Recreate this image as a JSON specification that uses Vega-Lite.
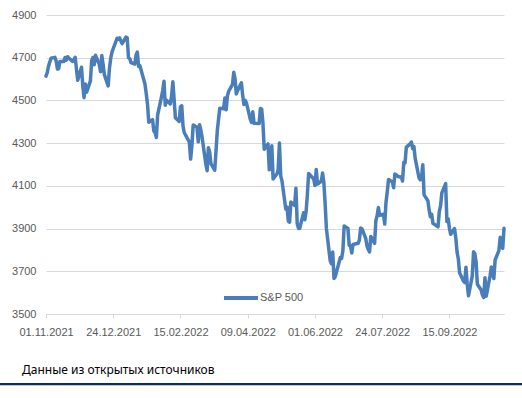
{
  "$schema": "https://vega.github.io/schema/vega-lite/v6.json",
  "autosize": "none",
  "width": 458,
  "height": 299,
  "padding": {"left": 46, "top": 15, "right": 18, "bottom": 84},
  "background": "white",
  "config": {
    "view": {"stroke": null},
    "font": "Liberation Sans"
  },
  "title": {
    "text": "Данные из открытых источников",
    "orient": "bottom",
    "anchor": "start",
    "frame": "group",
    "dx": -24,
    "offset": -20,
    "font": "Noto Sans",
    "fontSize": 12,
    "fontWeight": "normal",
    "color": "#000000"
  },
  "datasets": {
    "spx": [
      {"d":"2021-11-01","v":4613.67},{"d":"2021-11-02","v":4630.65},{"d":"2021-11-03","v":4660.57},{"d":"2021-11-04","v":4680.06},{"d":"2021-11-05","v":4697.53},
      {"d":"2021-11-08","v":4701.70},{"d":"2021-11-09","v":4685.25},{"d":"2021-11-10","v":4646.71},{"d":"2021-11-11","v":4649.27},{"d":"2021-11-12","v":4682.85},
      {"d":"2021-11-15","v":4682.80},{"d":"2021-11-16","v":4700.90},{"d":"2021-11-17","v":4688.67},{"d":"2021-11-18","v":4704.54},{"d":"2021-11-19","v":4697.96},
      {"d":"2021-11-22","v":4682.94},{"d":"2021-11-23","v":4690.70},{"d":"2021-11-24","v":4701.46},{"d":"2021-11-26","v":4594.62},
      {"d":"2021-11-29","v":4655.27},{"d":"2021-11-30","v":4567.00},{"d":"2021-12-01","v":4513.04},{"d":"2021-12-02","v":4577.10},{"d":"2021-12-03","v":4538.43},
      {"d":"2021-12-06","v":4591.67},{"d":"2021-12-07","v":4686.75},{"d":"2021-12-08","v":4701.21},{"d":"2021-12-09","v":4667.45},{"d":"2021-12-10","v":4712.02},
      {"d":"2021-12-13","v":4668.97},{"d":"2021-12-14","v":4634.09},{"d":"2021-12-15","v":4709.85},{"d":"2021-12-16","v":4668.67},{"d":"2021-12-17","v":4620.64},
      {"d":"2021-12-20","v":4568.02},{"d":"2021-12-21","v":4649.23},{"d":"2021-12-22","v":4696.56},{"d":"2021-12-23","v":4725.79},
      {"d":"2021-12-27","v":4791.19},{"d":"2021-12-28","v":4786.35},{"d":"2021-12-29","v":4793.06},{"d":"2021-12-30","v":4778.73},{"d":"2021-12-31","v":4766.18},
      {"d":"2022-01-03","v":4796.56},{"d":"2022-01-04","v":4793.54},{"d":"2022-01-05","v":4700.58},{"d":"2022-01-06","v":4696.05},{"d":"2022-01-07","v":4677.03},
      {"d":"2022-01-10","v":4670.29},{"d":"2022-01-11","v":4713.07},{"d":"2022-01-12","v":4726.35},{"d":"2022-01-13","v":4659.03},{"d":"2022-01-14","v":4662.85},
      {"d":"2022-01-18","v":4577.11},{"d":"2022-01-19","v":4532.76},{"d":"2022-01-20","v":4482.73},{"d":"2022-01-21","v":4397.94},
      {"d":"2022-01-24","v":4410.13},{"d":"2022-01-25","v":4356.45},{"d":"2022-01-26","v":4349.93},{"d":"2022-01-27","v":4326.51},{"d":"2022-01-28","v":4431.85},
      {"d":"2022-01-31","v":4515.55},{"d":"2022-02-01","v":4546.54},{"d":"2022-02-02","v":4589.38},{"d":"2022-02-03","v":4477.44},{"d":"2022-02-04","v":4500.53},
      {"d":"2022-02-07","v":4483.87},{"d":"2022-02-08","v":4521.54},{"d":"2022-02-09","v":4587.18},{"d":"2022-02-10","v":4504.08},{"d":"2022-02-11","v":4418.64},
      {"d":"2022-02-14","v":4401.67},{"d":"2022-02-15","v":4471.07},{"d":"2022-02-16","v":4475.01},{"d":"2022-02-17","v":4380.26},{"d":"2022-02-18","v":4348.87},
      {"d":"2022-02-22","v":4304.76},{"d":"2022-02-23","v":4225.50},{"d":"2022-02-24","v":4288.70},{"d":"2022-02-25","v":4384.65},
      {"d":"2022-02-28","v":4373.94},{"d":"2022-03-01","v":4306.26},{"d":"2022-03-02","v":4386.54},{"d":"2022-03-03","v":4363.49},{"d":"2022-03-04","v":4328.87},
      {"d":"2022-03-07","v":4201.09},{"d":"2022-03-08","v":4170.70},{"d":"2022-03-09","v":4277.88},{"d":"2022-03-10","v":4259.52},{"d":"2022-03-11","v":4204.31},
      {"d":"2022-03-14","v":4173.11},{"d":"2022-03-15","v":4262.45},{"d":"2022-03-16","v":4357.86},{"d":"2022-03-17","v":4411.67},{"d":"2022-03-18","v":4463.12},
      {"d":"2022-03-21","v":4461.18},{"d":"2022-03-22","v":4511.61},{"d":"2022-03-23","v":4456.24},{"d":"2022-03-24","v":4520.16},{"d":"2022-03-25","v":4543.06},
      {"d":"2022-03-28","v":4575.52},{"d":"2022-03-29","v":4631.60},{"d":"2022-03-30","v":4602.45},{"d":"2022-03-31","v":4530.41},{"d":"2022-04-01","v":4545.86},
      {"d":"2022-04-04","v":4582.64},{"d":"2022-04-05","v":4525.12},{"d":"2022-04-06","v":4481.15},{"d":"2022-04-07","v":4500.21},{"d":"2022-04-08","v":4488.28},
      {"d":"2022-04-11","v":4412.53},{"d":"2022-04-12","v":4397.45},{"d":"2022-04-13","v":4446.59},{"d":"2022-04-14","v":4392.59},
      {"d":"2022-04-18","v":4391.69},{"d":"2022-04-19","v":4462.21},{"d":"2022-04-20","v":4459.45},{"d":"2022-04-21","v":4393.66},{"d":"2022-04-22","v":4271.78},
      {"d":"2022-04-25","v":4296.12},{"d":"2022-04-26","v":4175.20},{"d":"2022-04-27","v":4183.96},{"d":"2022-04-28","v":4287.50},{"d":"2022-04-29","v":4131.93},
      {"d":"2022-05-02","v":4155.38},{"d":"2022-05-03","v":4175.48},{"d":"2022-05-04","v":4300.17},{"d":"2022-05-05","v":4146.87},{"d":"2022-05-06","v":4123.34},
      {"d":"2022-05-09","v":3991.24},{"d":"2022-05-10","v":4001.05},{"d":"2022-05-11","v":3935.18},{"d":"2022-05-12","v":3930.08},{"d":"2022-05-13","v":4023.89},
      {"d":"2022-05-16","v":4008.01},{"d":"2022-05-17","v":4088.85},{"d":"2022-05-18","v":3923.68},{"d":"2022-05-19","v":3900.79},{"d":"2022-05-20","v":3901.36},
      {"d":"2022-05-23","v":3973.75},{"d":"2022-05-24","v":3941.48},{"d":"2022-05-25","v":3978.73},{"d":"2022-05-26","v":4057.84},{"d":"2022-05-27","v":4158.24},
      {"d":"2022-05-31","v":4132.15},{"d":"2022-06-01","v":4101.23},{"d":"2022-06-02","v":4176.82},{"d":"2022-06-03","v":4108.54},
      {"d":"2022-06-06","v":4121.43},{"d":"2022-06-07","v":4160.68},{"d":"2022-06-08","v":4115.77},{"d":"2022-06-09","v":4017.82},{"d":"2022-06-10","v":3900.86},
      {"d":"2022-06-13","v":3749.63},{"d":"2022-06-14","v":3735.48},{"d":"2022-06-15","v":3789.99},{"d":"2022-06-16","v":3666.77},{"d":"2022-06-17","v":3674.84},
      {"d":"2022-06-21","v":3764.79},{"d":"2022-06-22","v":3759.89},{"d":"2022-06-23","v":3795.73},{"d":"2022-06-24","v":3911.74},
      {"d":"2022-06-27","v":3900.11},{"d":"2022-06-28","v":3821.55},{"d":"2022-06-29","v":3818.83},{"d":"2022-06-30","v":3785.38},{"d":"2022-07-01","v":3825.33},
      {"d":"2022-07-05","v":3831.39},{"d":"2022-07-06","v":3845.08},{"d":"2022-07-07","v":3902.62},{"d":"2022-07-08","v":3899.38},
      {"d":"2022-07-11","v":3854.43},{"d":"2022-07-12","v":3818.80},{"d":"2022-07-13","v":3801.78},{"d":"2022-07-14","v":3790.38},{"d":"2022-07-15","v":3863.16},
      {"d":"2022-07-18","v":3830.85},{"d":"2022-07-19","v":3936.69},{"d":"2022-07-20","v":3959.90},{"d":"2022-07-21","v":3998.95},{"d":"2022-07-22","v":3961.63},
      {"d":"2022-07-25","v":3966.84},{"d":"2022-07-26","v":3921.05},{"d":"2022-07-27","v":4023.61},{"d":"2022-07-28","v":4072.43},{"d":"2022-07-29","v":4130.29},
      {"d":"2022-08-01","v":4118.63},{"d":"2022-08-02","v":4091.19},{"d":"2022-08-03","v":4155.17},{"d":"2022-08-04","v":4151.94},{"d":"2022-08-05","v":4145.19},
      {"d":"2022-08-08","v":4140.06},{"d":"2022-08-09","v":4122.47},{"d":"2022-08-10","v":4210.24},{"d":"2022-08-11","v":4207.27},{"d":"2022-08-12","v":4280.15},
      {"d":"2022-08-15","v":4297.14},{"d":"2022-08-16","v":4305.20},{"d":"2022-08-17","v":4274.04},{"d":"2022-08-18","v":4283.74},{"d":"2022-08-19","v":4228.48},
      {"d":"2022-08-22","v":4137.99},{"d":"2022-08-23","v":4128.73},{"d":"2022-08-24","v":4140.77},{"d":"2022-08-25","v":4199.12},{"d":"2022-08-26","v":4057.66},
      {"d":"2022-08-29","v":4030.61},{"d":"2022-08-30","v":3986.16},{"d":"2022-08-31","v":3955.00},{"d":"2022-09-01","v":3966.85},{"d":"2022-09-02","v":3924.26},
      {"d":"2022-09-06","v":3908.19},{"d":"2022-09-07","v":3979.87},{"d":"2022-09-08","v":4006.18},{"d":"2022-09-09","v":4067.36},
      {"d":"2022-09-12","v":4110.41},{"d":"2022-09-13","v":3932.69},{"d":"2022-09-14","v":3946.01},{"d":"2022-09-15","v":3901.35},{"d":"2022-09-16","v":3873.33},
      {"d":"2022-09-19","v":3899.89},{"d":"2022-09-20","v":3855.93},{"d":"2022-09-21","v":3789.93},{"d":"2022-09-22","v":3757.99},{"d":"2022-09-23","v":3693.23},
      {"d":"2022-09-26","v":3655.04},{"d":"2022-09-27","v":3647.29},{"d":"2022-09-28","v":3719.04},{"d":"2022-09-29","v":3640.47},{"d":"2022-09-30","v":3585.62},
      {"d":"2022-10-03","v":3678.43},{"d":"2022-10-04","v":3790.93},{"d":"2022-10-05","v":3783.28},{"d":"2022-10-06","v":3744.52},{"d":"2022-10-07","v":3639.66},
      {"d":"2022-10-10","v":3612.39},{"d":"2022-10-11","v":3588.84},{"d":"2022-10-12","v":3577.03},{"d":"2022-10-13","v":3669.91},{"d":"2022-10-14","v":3583.07},
      {"d":"2022-10-17","v":3677.95},{"d":"2022-10-18","v":3719.98},{"d":"2022-10-19","v":3695.16},{"d":"2022-10-20","v":3665.78},{"d":"2022-10-21","v":3752.75},
      {"d":"2022-10-24","v":3797.34},{"d":"2022-10-25","v":3859.11},{"d":"2022-10-26","v":3830.60},{"d":"2022-10-27","v":3807.30},{"d":"2022-10-28","v":3901.06}
    ],
    "band": [{"a": "2021-09-20", "b": "2022-11-20", "y": 3172}]
  },
  "layer": [
    {
      "data": {"name": "spx"},
      "transform": [{"calculate": "'S&P 500'", "as": "series"}],
      "mark": {"type": "line", "strokeWidth": 3.5, "strokeJoin": "round", "strokeCap": "round", "clip": false},
      "encoding": {
        "x": {
          "field": "d",
          "type": "temporal",
          "scale": {
            "type": "utc",
            "domain": [
              {"year": 2021, "month": 11, "date": 1, "utc": true},
              {"year": 2022, "month": 10, "date": 28, "utc": true}
            ]
          },
          "axis": {
            "title": null,
            "values": [
              {"year": 2021, "month": 11, "date": 1, "utc": true},
              {"year": 2021, "month": 12, "date": 24, "utc": true},
              {"year": 2022, "month": 2, "date": 15, "utc": true},
              {"year": 2022, "month": 4, "date": 9, "utc": true},
              {"year": 2022, "month": 6, "date": 1, "utc": true},
              {"year": 2022, "month": 7, "date": 24, "utc": true},
              {"year": 2022, "month": 9, "date": 15, "utc": true}
            ],
            "format": "%d.%m.%Y",
            "grid": false,
            "domainColor": "#d9d9d9",
            "tickColor": "#d9d9d9",
            "tickSize": 4,
            "labelPadding": 8,
            "labelColor": "#595959",
            "labelFontSize": 11,
            "labelFont": "Liberation Sans",
            "labelFlush": false,
            "labelOverlap": false
          }
        },
        "y": {
          "field": "v",
          "type": "quantitative",
          "scale": {"domain": [3500, 4900], "zero": false, "nice": false},
          "axis": {
            "title": null,
            "values": [3500, 3700, 3900, 4100, 4300, 4500, 4700, 4900],
            "format": "d",
            "domain": false,
            "ticks": false,
            "gridColor": "#d9d9d9",
            "gridWidth": 1,
            "labelPadding": 10,
            "labelColor": "#595959",
            "labelFontSize": 11,
            "labelFont": "Liberation Sans"
          }
        },
        "color": {
          "field": "series",
          "type": "nominal",
          "scale": {"range": ["#4a7ebb"]},
          "legend": {
            "title": null,
            "orient": "none",
            "legendX": 176,
            "legendY": 264,
            "symbolType": "stroke",
            "symbolSize": 1156,
            "symbolStrokeWidth": 4,
            "labelColor": "#595959",
            "labelFontSize": 11,
            "labelFont": "Liberation Sans",
            "labelOffset": 0,
            "padding": 0
          }
        }
      }
    },
    {
      "data": {"name": "band"},
      "mark": {"type": "rule", "color": "#0b2a66", "strokeWidth": 2.2, "clip": false},
      "encoding": {
        "x": {"field": "a", "type": "temporal"},
        "x2": {"field": "b"},
        "y": {"field": "y", "type": "quantitative"}
      }
    }
  ]
}
